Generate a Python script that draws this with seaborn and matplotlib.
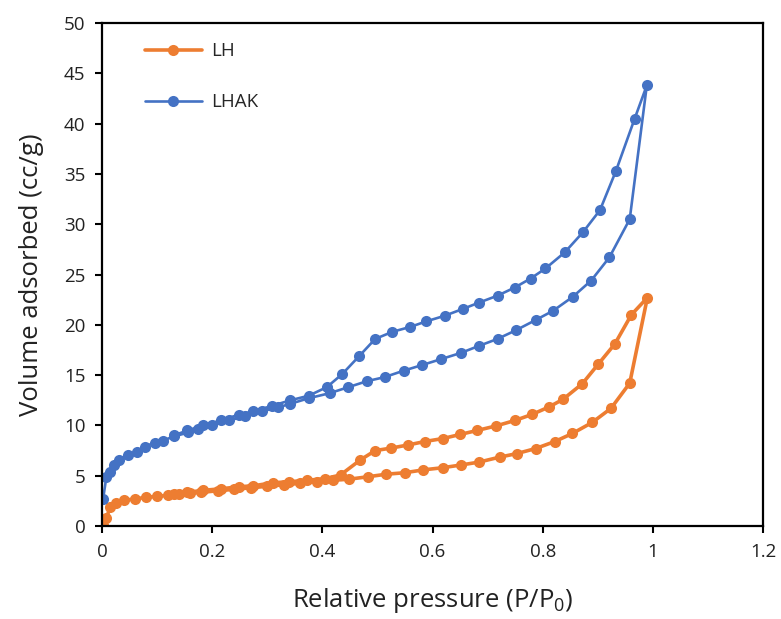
import matplotlib
matplotlib.use("Agg")
import matplotlib.pyplot as plt
import numpy as np
import pandas as pd
import seaborn as sns

# LH: adsorption branch (up) then desorption branch (down)
lh_ads_p = [0.002, 0.008, 0.015, 0.025, 0.04, 0.06, 0.08, 0.10, 0.12, 0.14, 0.16, 0.18,
            0.21, 0.24, 0.27, 0.30, 0.33, 0.36, 0.39, 0.42, 0.448, 0.483, 0.516, 0.55,
            0.583, 0.619, 0.652, 0.684, 0.722, 0.753, 0.787, 0.822, 0.854, 0.89, 0.924,
            0.958, 0.99]
lh_ads_v = [0.1, 0.8, 1.9, 2.3, 2.55, 2.7, 2.85, 2.95, 3.05, 3.15, 3.25, 3.35,
            3.5, 3.65, 3.8, 3.95, 4.1, 4.25, 4.4, 4.55, 4.65, 4.9, 5.15, 5.3,
            5.58, 5.8, 6.07, 6.35, 6.85, 7.2, 7.7, 8.4, 9.2, 10.3, 11.7,
            14.2, 22.7]
lh_des_p = [0.961, 0.931, 0.901, 0.872, 0.837, 0.812, 0.781, 0.750, 0.716, 0.681,
            0.650, 0.619, 0.586, 0.555, 0.524, 0.496, 0.469, 0.433, 0.405, 0.372,
            0.34, 0.31, 0.275, 0.248, 0.216, 0.184, 0.155, 0.13]
lh_des_v = [21.0, 18.1, 16.1, 14.15, 12.6, 11.85, 11.1, 10.5, 9.96, 9.5,
            9.1, 8.7, 8.4, 8.05, 7.74, 7.5, 6.57, 5.08, 4.7, 4.55,
            4.4, 4.3, 4.0, 3.9, 3.7, 3.55, 3.35, 3.2]

# LHAK
lhak_ads_p = [0.002, 0.008, 0.015, 0.021, 0.031, 0.048, 0.063, 0.078, 0.096, 0.111,
              0.13, 0.157, 0.175, 0.2, 0.23, 0.26, 0.29, 0.32, 0.342, 0.375, 0.413,
              0.447, 0.481, 0.513, 0.548, 0.581, 0.616, 0.651, 0.684, 0.718, 0.751,
              0.788, 0.819, 0.855, 0.888, 0.921, 0.958, 0.989]
lhak_ads_v = [2.7, 4.9, 5.4, 6.1, 6.6, 7.1, 7.4, 7.9, 8.3, 8.5,
              8.9, 9.3, 9.6, 10.0, 10.5, 10.9, 11.4, 11.8, 12.15, 12.7, 13.2,
              13.8, 14.4, 14.8, 15.45, 16.0, 16.6, 17.2, 17.9, 18.6, 19.45,
              20.5, 21.4, 22.8, 24.4, 26.7, 30.5, 43.8]
lhak_des_p = [0.967, 0.933, 0.904, 0.873, 0.840, 0.805, 0.778, 0.749, 0.718, 0.684,
              0.656, 0.622, 0.589, 0.56, 0.527, 0.496, 0.467, 0.436, 0.408, 0.375,
              0.342, 0.309, 0.275, 0.248, 0.216, 0.184, 0.155, 0.13]
lhak_des_v = [40.5, 35.3, 31.4, 29.2, 27.2, 25.6, 24.6, 23.7, 22.9, 22.2,
              21.6, 20.9, 20.35, 19.8, 19.3, 18.6, 16.9, 15.1, 13.8, 12.95,
              12.5, 11.95, 11.4, 11.06, 10.5, 10.0, 9.5, 9.0]

SERIES_COLORS = {"LH": "#ED7D31", "LHAK": "#4472C4"}

frames = []
for name, p_ads, v_ads, p_des, v_des in [
    ("LH", lh_ads_p, lh_ads_v, lh_des_p, lh_des_v),
    ("LHAK", lhak_ads_p, lhak_ads_v, lhak_des_p, lhak_des_v),
]:
    frames.append(pd.DataFrame({"p": p_ads + p_des, "v": v_ads + v_des, "sample": name}))
data = pd.concat(frames, ignore_index=True)

sns.set_style("white")
plt.rcParams["font.family"] = ["Open Sans", "DejaVu Sans"]
plt.rcParams["mathtext.fontset"] = "custom"
plt.rcParams["mathtext.rm"] = "Open Sans"

fig = plt.figure(figsize=(7.81, 6.19), dpi=100)
ax = fig.add_axes([0.1306, 0.1502, 0.8464, 0.8126])

for name, width in [("LH", 2.6), ("LHAK", 1.9)]:
    sns.lineplot(
        data=data[data["sample"] == name], x="p", y="v", sort=False, estimator=None,
        color=SERIES_COLORS[name], marker="o", markersize=8, markeredgewidth=0,
        linewidth=width, label=name, ax=ax,
    )

ax.set_xlim(0, 1.2)
ax.set_ylim(0, 50)
ax.set_xticks(np.arange(0, 1.21, 0.2))
ax.set_xticklabels(["0", "0.2", "0.4", "0.6", "0.8", "1", "1.2"])
ax.set_yticks(np.arange(0, 51, 5))
ax.tick_params(direction="out", length=5, width=1.5, color="black", labelsize=13.5,
               labelcolor="#222222", pad=7, bottom=True, left=True)
for spine in ax.spines.values():
    spine.set_visible(True)
    spine.set_color("black")
    spine.set_linewidth(1.6)

ax.set_xlabel("Relative pressure (P/P$_0$)", fontsize=18.5, color="#222222", labelpad=18)
ax.set_ylabel("Volume adsorbed (cc/g)", fontsize=18.5, color="#222222", labelpad=14)

ax.legend(loc="upper left", frameon=False, fontsize=13.5, handlelength=3.0,
          labelspacing=1.75, bbox_to_anchor=(0.04, 0.995), handletextpad=0.5)

fig.savefig("out.png", dpi=100)
